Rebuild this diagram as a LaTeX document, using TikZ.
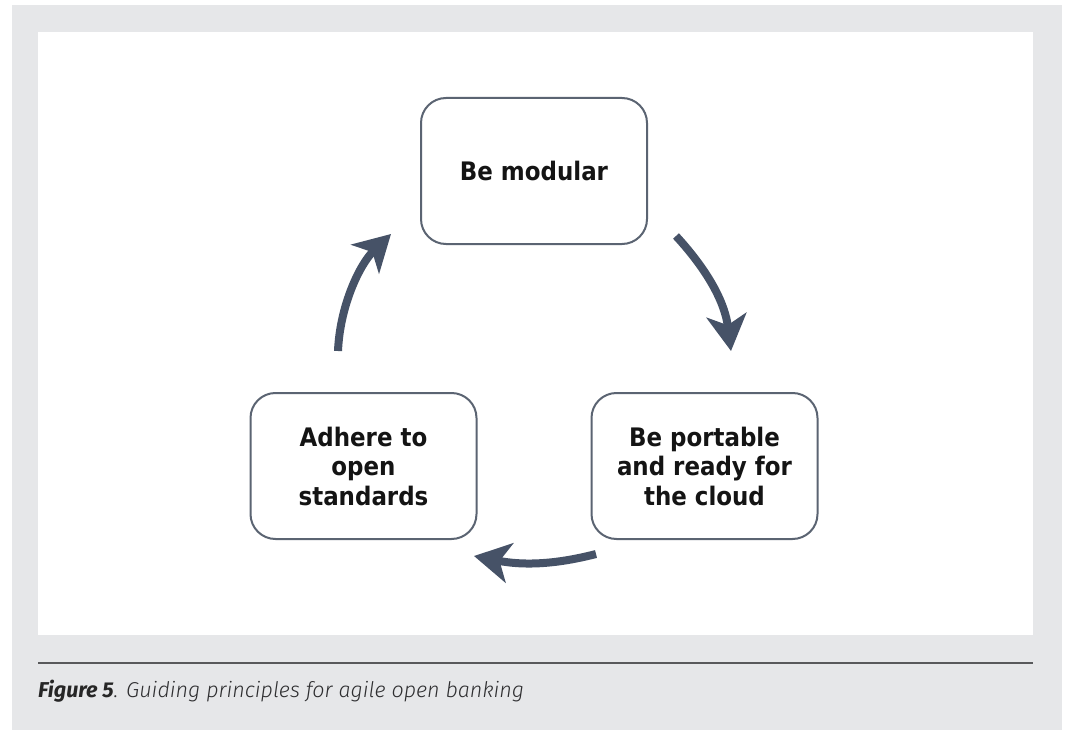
\documentclass[tikz,border=0pt]{standalone}
\usepackage{fontspec}
\usetikzlibrary{arrows.meta}

% Box labels: a narrow bold humanist sans
\IfFontExistsTF{DejaVu Sans Condensed}
  {\newfontfamily\boxfont{DejaVu Sans Condensed}}
  {\newfontfamily\boxfont{DejaVu Sans}[FakeStretch=0.9]}
% Caption: light italic text with a bold italic figure label
\IfFontExistsTF{Fira Sans Light}
  {\newfontfamily\capfont{Fira Sans Light}}
  {\newfontfamily\capfont{Fira Sans}}
\newfontfamily\caplabel{Fira Sans}

\definecolor{pagegray}{HTML}{E6E7E9}
\definecolor{boxline}{HTML}{5B6472}
\definecolor{arrowblue}{HTML}{465267}
\definecolor{ruleline}{HTML}{58595B}
\definecolor{captext}{HTML}{2E2E30}

\tikzset{
  principle/.style={draw=boxline, line width=2pt, rounded corners=25pt,
    fill=white, minimum width=226pt, minimum height=146pt, align=center,
    text=black!92, inner sep=0pt,
    font=\boxfont\bfseries\fontsize{25.5}{29.5}\selectfont},
  cyclearrow/.style={draw=arrowblue, line width=8pt,
    -{Stealth[length=36pt, width=40pt, inset=10pt]}},
}

\begin{document}
\begin{tikzpicture}[x=1pt, y=-1pt]
  \useasboundingbox (0,0) rectangle (1068,730);
  \fill[white] (0,0) rectangle (1068,730);
  % page frame and white panel
  \fill[pagegray] (12,5) rectangle (1062,730);
  \fill[white] (38,32) rectangle (1033,635);
  % rule above the caption
  \draw[ruleline, line width=2.5pt] (38,663) -- (1033,663);

  % the three principles
  \node[principle] (modular)   at (534,171)   {Be modular};
  \node[principle] (standards) at (363.5,466) {Adhere to\\open\\standards};
  \node[principle] (portable)  at (704.5,466) {Be portable\\and ready for\\the cloud};

  % cycle arrows
  \coordinate (a1s) at (676,236);
  \coordinate (a1e) at (731,351);
  \coordinate (a2s) at (596,554);
  \coordinate (a2e) at (474,556);
  \coordinate (a3s) at (338,351);
  \coordinate (a3e) at (391,234);
  \draw[cyclearrow] (a1s) .. controls (700,262) and (724,296) .. (a1e);
  \draw[cyclearrow] (a2s) .. controls (565,562) and (530,567) .. (a2e);
  \draw[cyclearrow] (a3s) .. controls (340,305) and (360,264) .. (a3e);

  % caption
  \node[anchor=base west, inner sep=0pt, text=captext,
        font=\capfont\fontsize{21.5}{25}\selectfont] (caption) at (38,697)
    {{\caplabel\bfseries\itshape\color{black!85}Figure 5}\itshape. Guiding principles for agile open banking};
\end{tikzpicture}
\end{document}
